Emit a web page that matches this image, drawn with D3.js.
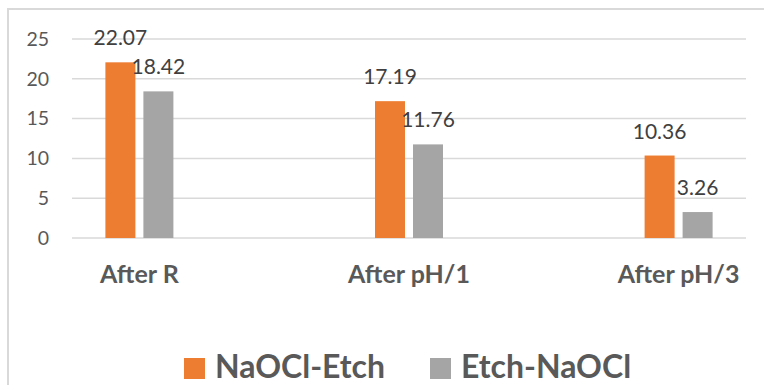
<!DOCTYPE html>
<html lang="en">
<head>
  <meta charset="UTF-8" />
  <title>NaOCl / Etch</title>
  <script src="https://cdn.jsdelivr.net/npm/d3@7"></script>
  <style>
    body { margin: 0; background: #fff; font-family: Lato, "Open Sans", sans-serif; }
  </style>
</head>
<body>
  <svg id="chart"></svg>
  <script>
// data
const categories = ["After R", "After pH/1", "After pH/3"];
const seriesNames = ["NaOCl-Etch", "Etch-NaOCl"];
const naoclEtch = [22.07, 17.19, 10.36];
const etchNaocl = [18.42, 11.76, 3.26];
const yTicks = [0, 5, 10, 15, 20, 25];
const colors = ["#ed7d31", "#a5a5a5"];

const width = 764, height = 385;
const svg = d3.select("#chart").attr("width", width).attr("height", height);

// chart frame (only top and left edges fall inside the crop)
svg.append("path")
  .attr("d", `M8,${height} V9 H${width}`)
  .attr("fill", "none")
  .attr("stroke", "#d9d9d9")
  .attr("stroke-width", 2);

const plot = { left: 72, right: 746, top: 39, bottom: 238 };

const x = d3.scaleBand().domain(categories)
  .range([plot.left, plot.right])
  .paddingInner(0.5)
  .paddingOuter(0);
const groupWidth = 68;
const xSub = d3.scaleBand().domain(seriesNames)
  .range([0, groupWidth])
  .paddingInner(8 / 38);
const y = d3.scaleLinear().domain([0, 25]).range([plot.bottom, plot.top]);

// gridlines
svg.append("g").selectAll("line").data(yTicks).join("line")
  .attr("x1", plot.left).attr("x2", plot.right)
  .attr("y1", d => y(d)).attr("y2", d => y(d))
  .attr("stroke", "#d9d9d9").attr("stroke-width", 1.5);

// y axis labels
const yAxis = svg.append("g")
  .attr("transform", `translate(${plot.left - 8},0)`)
  .call(d3.axisLeft(y).tickValues(yTicks).tickSize(0).tickPadding(15));
yAxis.select(".domain").remove();
yAxis.selectAll("text")
  .attr("fill", "#595959")
  .style("font-family", "Lato, sans-serif")
  .style("font-size", "19.5px");

// bars
const rows = categories.map((c, i) => ({ cat: c, values: [naoclEtch[i], etchNaocl[i]] }));
const groups = svg.append("g").selectAll("g").data(rows).join("g")
  .attr("transform", d => `translate(${x(d.cat) + x.bandwidth() / 2 - groupWidth / 2},0)`);

groups.selectAll("rect")
  .data(d => d.values.map((v, j) => ({ name: seriesNames[j], v, j })))
  .join("rect")
  .attr("x", d => xSub(d.name))
  .attr("width", xSub.bandwidth())
  .attr("y", d => y(d.v))
  .attr("height", d => y(0) - y(d.v))
  .attr("fill", d => colors[d.j]);

groups.selectAll("text")
  .data(d => d.values.map((v, j) => ({ name: seriesNames[j], v, j })))
  .join("text")
  .attr("x", d => xSub(d.name) + xSub.bandwidth() / 2)
  .attr("y", d => y(d.v) - 17)
  .attr("text-anchor", "middle")
  .attr("fill", "#404040")
  .style("font-size", "21px")
  .text(d => d.v.toFixed(2));

// category labels
svg.append("g").selectAll("text").data(categories).join("text")
  .attr("x", d => x(d) + x.bandwidth() / 2)
  .attr("y", 283)
  .attr("text-anchor", "middle")
  .attr("fill", "#595959")
  .style("font-size", "25px")
  .style("font-weight", "bold")
  .text(d => d);

// legend
const legendX = [184, 430];
const legend = svg.append("g").selectAll("g").data(seriesNames).join("g")
  .attr("transform", (d, i) => `translate(${legendX[i]},358)`);
legend.append("rect")
  .attr("width", 21).attr("height", 21)
  .attr("fill", (d, i) => colors[i]);
legend.append("text")
  .attr("x", 31).attr("y", 20)
  .attr("fill", "#595959")
  .style("font-size", "32px")
  .style("font-weight", "bold")
  .text(d => d);
  </script>
</body>
</html>
